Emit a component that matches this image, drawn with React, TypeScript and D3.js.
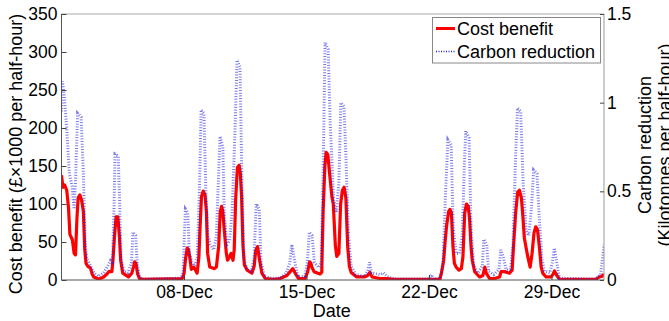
import React, { useRef, useEffect } from 'react';
import * as d3 from 'd3';

// time is given in days since 1 Dec (00:00)
const costBenefit: [number, number][] = [
  [0, 138], [0.08, 122], [0.18, 125], [0.3, 118], [0.4, 95], [0.48, 60], [0.62, 53], [0.72, 35], [0.8, 33],
  [0.88, 80], [0.95, 108], [1.05, 112], [1.15, 105], [1.25, 90], [1.33, 40], [1.4, 22], [1.5, 18], [1.65, 16],
  [1.75, 8], [1.84, 4], [2.13, 1], [2.41, 4], [2.6, 8], [2.7, 11], [2.88, 11], [2.94, 26], [3.04, 61], [3.12, 83],
  [3.22, 83], [3.3, 60], [3.38, 26], [3.5, 9], [3.83, 4], [4.02, 9], [4.12, 18], [4.18, 24], [4.25, 22], [4.35, 8],
  [4.45, 2], [4.6, 1], [6.9, 2], [7.0, 8], [7.08, 26], [7.18, 42], [7.25, 40], [7.33, 30], [7.42, 14], [7.56, 17],
  [7.75, 9], [7.85, 30], [7.92, 70], [8.0, 110], [8.1, 117], [8.2, 112], [8.28, 90], [8.35, 35], [8.47, 17],
  [8.6, 16], [8.74, 15], [8.85, 17], [8.98, 44], [9.07, 90], [9.15, 97], [9.22, 90], [9.3, 66], [9.42, 35],
  [9.49, 26], [9.6, 30], [9.69, 35], [9.8, 26], [9.87, 40], [9.95, 105], [10.05, 148], [10.15, 151], [10.22, 140],
  [10.29, 110], [10.37, 45], [10.45, 20], [10.6, 13], [10.88, 9], [11.01, 18], [11.1, 39], [11.2, 44], [11.32, 26],
  [11.45, 9], [11.64, 2], [12.11, 1], [12.5, 2], [12.88, 6], [13.07, 11], [13.22, 15], [13.35, 9], [13.54, 2],
  [13.92, 2], [14.07, 11], [14.18, 24], [14.25, 22], [14.32, 16], [14.43, 11], [14.77, 8], [14.87, 10], [14.95, 90],
  [15.05, 150], [15.12, 168], [15.22, 165], [15.32, 140], [15.45, 110], [15.53, 100], [15.65, 45], [15.73, 31],
  [15.85, 35], [15.95, 100], [16.05, 118], [16.15, 122], [16.25, 108], [16.35, 45], [16.45, 18], [16.55, 10],
  [16.87, 4], [17.3, 4], [17.5, 6], [17.62, 10], [17.75, 4], [18.2, 2], [18.58, 2], [19.0, 1], [21.62, 1],
  [21.71, 9], [21.84, 26], [21.92, 50], [22.0, 70], [22.12, 90], [22.2, 93], [22.28, 88], [22.37, 44], [22.45, 22],
  [22.55, 17], [22.71, 13], [22.85, 15], [22.94, 31], [23.04, 88], [23.14, 100], [23.24, 97], [23.32, 80],
  [23.4, 45], [23.47, 26], [23.61, 11], [23.89, 4], [24.08, 6], [24.19, 17], [24.27, 9], [24.46, 2], [24.75, 2],
  [25.03, 4], [25.12, 11], [25.32, 11], [25.6, 9], [25.75, 13], [25.83, 44], [25.95, 88], [26.07, 116], [26.17, 118],
  [26.28, 108], [26.36, 85], [26.45, 55], [26.64, 31], [26.78, 17], [26.89, 35], [27.0, 62], [27.1, 70], [27.2, 66],
  [27.3, 45], [27.41, 17], [27.5, 9], [27.69, 4], [27.98, 4], [28.1, 8], [28.17, 12], [28.3, 6], [28.45, 1],
  [30.54, 1], [30.73, 4], [30.9, 5], [31, 8],
];

const carbonReduction: [number, number][] = [
  [0, 0.95], [0.05, 1.12], [0.15, 1.05], [0.3, 0.85], [0.45, 0.6], [0.6, 0.53], [0.72, 0.4], [0.8, 0.55],
  [0.92, 0.94], [1.12, 0.92], [1.25, 0.6], [1.35, 0.2], [1.45, 0.12], [1.65, 0.08], [1.85, 0.04], [2.1, 0.02],
  [2.4, 0.04], [2.65, 0.08], [2.8, 0.11], [2.92, 0.1], [3.0, 0.4], [3.06, 0.71], [3.24, 0.7], [3.32, 0.45],
  [3.4, 0.12], [3.55, 0.05], [3.8, 0.04], [4.0, 0.1], [4.08, 0.27], [4.24, 0.25], [4.32, 0.1], [4.45, 0.02],
  [4.6, 0.005], [6.85, 0.01], [6.95, 0.05], [7.08, 0.4], [7.22, 0.38], [7.3, 0.15], [7.45, 0.1], [7.6, 0.08],
  [7.75, 0.12], [7.88, 0.5], [7.98, 0.96], [8.14, 0.94], [8.25, 0.5], [8.35, 0.26], [8.5, 0.2], [8.7, 0.17],
  [8.85, 0.25], [8.98, 0.6], [9.06, 0.81], [9.22, 0.75], [9.3, 0.38], [9.45, 0.2], [9.6, 0.22], [9.75, 0.38],
  [9.9, 0.8], [10.03, 1.24], [10.2, 1.2], [10.3, 0.6], [10.42, 0.12], [10.6, 0.06], [10.85, 0.05], [11.0, 0.12],
  [11.13, 0.43], [11.3, 0.4], [11.4, 0.1], [11.6, 0.02], [12.0, 0.01], [12.5, 0.01], [12.85, 0.04], [13.05, 0.1],
  [13.16, 0.2], [13.3, 0.12], [13.5, 0.02], [13.9, 0.02], [14.05, 0.1], [14.16, 0.27], [14.32, 0.25], [14.45, 0.1],
  [14.7, 0.07], [14.85, 0.1], [14.95, 0.6], [15.06, 1.34], [15.24, 1.3], [15.35, 0.9], [15.55, 0.45], [15.7, 0.38],
  [15.85, 0.55], [15.96, 1.0], [16.14, 0.98], [16.25, 0.7], [16.4, 0.25], [16.55, 0.08], [16.8, 0.03], [17.3, 0.02],
  [17.5, 0.05], [17.6, 0.1], [17.7, 0.04], [18.2, 0.03], [18.4, 0.04], [18.6, 0.02], [19.0, 0.005], [21.0, 0.005],
  [21.15, 0.03], [21.25, 0.005], [21.65, 0.01], [21.8, 0.1], [21.95, 0.5], [22.08, 0.79], [22.27, 0.76], [22.38, 0.3],
  [22.55, 0.15], [22.75, 0.15], [22.9, 0.25], [23.02, 0.65], [23.1, 0.84], [23.29, 0.8], [23.4, 0.3], [23.55, 0.08],
  [23.8, 0.04], [24.05, 0.08], [24.13, 0.23], [24.3, 0.2], [24.4, 0.05], [24.7, 0.03], [25.0, 0.06], [25.1, 0.17],
  [25.27, 0.12], [25.4, 0.06], [25.65, 0.05], [25.8, 0.2], [25.95, 0.7], [26.06, 0.97], [26.24, 0.95], [26.38, 0.55],
  [26.55, 0.28], [26.7, 0.25], [26.85, 0.4], [26.98, 0.62], [27.17, 0.6], [27.3, 0.35], [27.45, 0.12], [27.6, 0.05],
  [27.9, 0.04], [28.05, 0.1], [28.16, 0.18], [28.3, 0.1], [28.45, 0.01], [30.5, 0.005], [30.8, 0.03], [30.95, 0.15],
  [31, 0.2],
];

const leftTicks = [0, 50, 100, 150, 200, 250, 300, 350];
const rightTicks = [0, 0.5, 1, 1.5];
const dateTicks = ['2012-12-08', '2012-12-15', '2012-12-22', '2012-12-29'];

const FONT = "'Liberation Sans', Arial, Helvetica, sans-serif";
const W = 669;
const H = 321;
const m = { left: 61.5, right: 604, top: 14, bottom: 280 };

const startMs = Date.UTC(2012, 11, 1);
const toDate = (d: number) => new Date(startMs + d * 864e5);

const App = () => {
  const ref = useRef<SVGSVGElement>(null);

  useEffect(() => {
    const svg = d3.select(ref.current);
    svg.selectAll('*').remove();

    const x = d3.scaleUtc().domain([toDate(0), toDate(31)]).range([m.left, m.right]);
    const yL = d3.scaleLinear().domain([0, 350]).range([m.bottom, m.top]);
    const yR = d3.scaleLinear().domain([0, 1.5]).range([m.bottom, m.top]);

    svg.append('rect').attr('width', W).attr('height', H).attr('fill', '#fff');

    svg.append('clipPath').attr('id', 'plot')
      .append('rect')
      .attr('x', m.left).attr('y', m.top)
      .attr('width', m.right - m.left).attr('height', m.bottom - m.top);

    const costLine = d3.line<[number, number]>()
      .x(p => x(toDate(p[0])))
      .y(p => yL(p[1]));
    const carbonLine = d3.line<[number, number]>()
      .x(p => x(toDate(p[0])))
      .y(p => yR(p[1]));

    const plot = svg.append('g').attr('clip-path', 'url(#plot)');
    plot.append('path')
      .attr('d', costLine(costBenefit))
      .attr('fill', 'none')
      .attr('stroke', '#ff0000')
      .attr('stroke-width', 3.2)
      .attr('stroke-linejoin', 'round');
    plot.append('path')
      .attr('d', carbonLine(carbonReduction))
      .attr('fill', 'none')
      .attr('stroke', '#2020e0')
      .attr('stroke-opacity', 0.6)
      .attr('stroke-width', 3)
      .attr('stroke-dasharray', '1 1.7');

    // box
    const box = svg.append('g').attr('fill', 'none');
    box.append('line').attr('x1', m.left).attr('x2', m.right).attr('y1', m.top).attr('y2', m.top).attr('stroke', '#aaa');
    box.append('line').attr('x1', m.right).attr('x2', m.right).attr('y1', m.top).attr('y2', m.bottom).attr('stroke', '#999');
    box.append('line').attr('x1', m.left).attr('x2', m.left).attr('y1', m.top).attr('y2', m.bottom).attr('stroke', '#555');
    box.append('line').attr('x1', m.left).attr('x2', m.right).attr('y1', m.bottom).attr('y2', m.bottom).attr('stroke', '#555');

    const styleAxis = (g: any, size: number) => {
      g.select('.domain').remove();
      g.attr('font-family', FONT).attr('font-size', size);
      g.selectAll('text').attr('fill', '#000');
      g.selectAll('line').attr('stroke', '#444');
    };

    svg.append('g')
      .attr('transform', `translate(${m.left},0)`)
      .call(d3.axisLeft(yL).tickValues(leftTicks).tickSizeInner(-5).tickSizeOuter(0).tickPadding(4))
      .call((g: any) => styleAxis(g, 17.5));

    svg.append('g')
      .attr('transform', `translate(${m.right},0)`)
      .call(d3.axisRight(yR).tickValues(rightTicks).tickFormat(d3.format('~g') as any)
        .tickSizeInner(-4).tickSizeOuter(0).tickPadding(3))
      .call((g: any) => styleAxis(g, 17.5));

    svg.append('g')
      .attr('transform', `translate(0,${m.bottom})`)
      .call(d3.axisBottom(x).tickValues(dateTicks.map(s => new Date(s + 'T00:00:00Z')))
        .tickFormat(d3.utcFormat('%d-%b') as any).tickSizeInner(-5).tickSizeOuter(0).tickPadding(6))
      .call((g: any) => styleAxis(g, 17.5));

    // axis titles
    svg.append('text')
      .attr('transform', `translate(22,154) rotate(-90)`)
      .attr('text-anchor', 'middle')
      .attr('font-family', FONT).attr('font-size', 18)
      .text('Cost benefit (£×1000 per half-hour)');

    svg.append('text')
      .attr('x', (m.left + m.right) / 2 - 1).attr('y', 317)
      .attr('text-anchor', 'middle')
      .attr('font-family', FONT).attr('font-size', 18)
      .text('Date');

    const rl = svg.append('text')
      .attr('transform', `translate(651,145) rotate(-90)`)
      .attr('text-anchor', 'middle')
      .attr('font-family', FONT).attr('font-size', 18);
    rl.append('tspan').attr('x', 0).attr('y', 0).text('Carbon reduction');
    rl.append('tspan').attr('x', 0).attr('y', 20).text('(Kilotonnes per half-hour)');

    // legend
    const lg = svg.append('g');
    lg.append('rect')
      .attr('x', 432.5).attr('y', 17.5).attr('width', 168).attr('height', 45.5)
      .attr('fill', '#fff').attr('stroke', '#888');
    lg.append('line').attr('x1', 436).attr('x2', 455).attr('y1', 28.5).attr('y2', 28.5)
      .attr('stroke', '#ff0000').attr('stroke-width', 3);
    lg.append('line').attr('x1', 436).attr('x2', 455).attr('y1', 51.5).attr('y2', 51.5)
      .attr('stroke', '#2020e0').attr('stroke-width', 1.5).attr('stroke-dasharray', '1 1.5');
    lg.append('text').attr('x', 457).attr('y', 35).attr('font-family', FONT).attr('font-size', 18)
      .text('Cost benefit');
    lg.append('text').attr('x', 457).attr('y', 58).attr('font-family', FONT).attr('font-size', 18)
      .text('Carbon reduction');
  }, []);

  return (
    <svg ref={ref} width={W} height={H} style={{ position: 'absolute', left: 0, top: 0 }} />
  );
};

export default App;
